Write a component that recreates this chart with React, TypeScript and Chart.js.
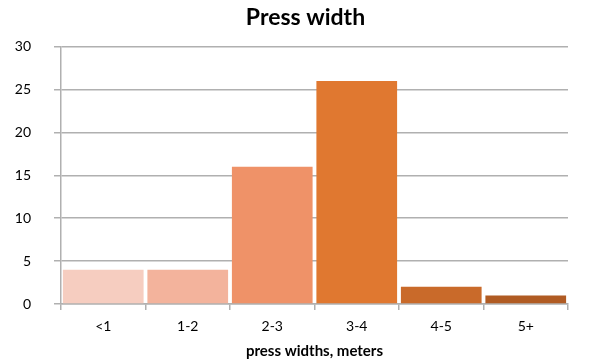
import React, { useEffect, useRef } from "react";
import { Chart, registerables } from "chart.js";

Chart.register(...registerables);

const categories = ["<1", "1-2", "2-3", "3-4", "4-5", "5+"];
const counts = [4, 4, 16, 26, 2, 1];
const barColors = ["#F6CDC0", "#F3B39C", "#EF9268", "#E07830", "#C96A2A", "#B05B23"];
const yTicks = [0, 5, 10, 15, 20, 25, 30];

const FONT = "Lato, 'Open Sans', 'Liberation Sans', sans-serif";
const GRID = "#b0b0b0";

export default function App() {
  const canvasRef = useRef<HTMLCanvasElement | null>(null);

  useEffect(() => {
    const canvas = canvasRef.current;
    if (!canvas) return;
    const chart = new Chart(canvas, {
      type: "bar",
      data: {
        labels: categories,
        datasets: [
          {
            data: counts,
            backgroundColor: barColors,
            borderWidth: 0,
            barPercentage: 0.955,
            categoryPercentage: 1,
          },
        ],
      },
      options: {
        animation: false,
        responsive: false,
        maintainAspectRatio: false,
        layout: { padding: 0 },
        plugins: {
          legend: { display: false },
          tooltip: { enabled: false },
          title: {
            display: true,
            text: "Press width",
            color: "#000",
            font: { family: FONT, size: 23, weight: "bold" },
            padding: { top: 4, bottom: 15 },
          },
        },
        scales: {
          x: {
            grid: {
              display: true,
              drawOnChartArea: false,
              drawTicks: true,
              tickLength: 6,
              color: GRID,
              lineWidth: 1.5,
              offset: true,
            },
            border: { display: true, color: GRID, width: 1.5 },
            ticks: {
              color: "#000",
              font: { family: FONT, size: 14 },
              padding: 8,
            },
            title: {
              display: true,
              text: "press widths, meters",
              color: "#000",
              font: { family: FONT, size: 15, weight: "bold" },
              padding: { top: 4, bottom: 2 },
            },
            afterFit: (scale: any) => {
              scale.height = 58;
            },
          },
          y: {
            min: 0,
            max: 30,
            afterBuildTicks: (scale: any) => {
              scale.ticks = yTicks.map((v) => ({ value: v }));
            },
            grid: {
              color: GRID,
              lineWidth: 1.5,
              drawTicks: true,
              tickLength: 7,
            },
            border: { display: true, color: GRID, width: 1.5 },
            ticks: {
              color: "#000",
              font: { family: FONT, size: 14 },
              padding: 23,
            },
            afterFit: (scale: any) => {
              scale.width = 61;
            },
          },
          // empty margin to the right of the plot
          yRight: {
            type: "linear",
            position: "right",
            min: 0,
            max: 30,
            grid: { display: false },
            border: { display: false },
            ticks: { display: false },
            afterFit: (scale: any) => {
              scale.width = 43;
            },
          },
        },
      },
    });
    return () => chart.destroy();
  }, []);

  return (
    <div style={{ position: "absolute", left: 0, top: 0, width: 611, height: 362, background: "#fff" }}>
      <canvas ref={canvasRef} width={611} height={362} style={{ width: 611, height: 362 }} />
    </div>
  );
}
